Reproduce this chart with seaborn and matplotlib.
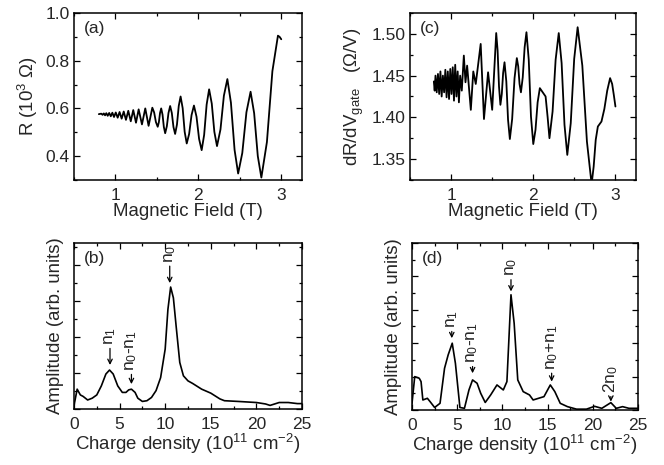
import seaborn as sns
import matplotlib.pyplot as plt
from matplotlib.ticker import MultipleLocator, FormatStrFormatter, NullFormatter

sns.set_style('ticks')
plt.rcParams['font.family'] = ['Liberation Sans', 'DejaVu Sans']
plt.rcParams['mathtext.default'] = 'regular'

# (a) resistance vs field
field_a = [0.80, 0.83, 0.845, 0.86, 0.875, 0.89, 0.907, 0.925, 0.944, 0.963, 0.983,
           1.004, 1.027, 1.05, 1.075, 1.10, 1.127, 1.155, 1.185, 1.215, 1.248, 1.28,
           1.32, 1.36, 1.40, 1.445, 1.467, 1.488, 1.51, 1.524, 1.538, 1.552, 1.568,
           1.584, 1.60, 1.62, 1.64, 1.66, 1.68, 1.70, 1.72, 1.742, 1.764, 1.786,
           1.811, 1.835, 1.86, 1.889, 1.918, 1.947, 1.978, 2.009, 2.04, 2.07, 2.10,
           2.13, 2.162, 2.193, 2.225, 2.267, 2.308, 2.35, 2.393, 2.437, 2.48, 2.53,
           2.58, 2.63, 2.673, 2.717, 2.76, 2.827, 2.893, 2.96, 2.98, 3.0]
res_a = [0.576, 0.578, 0.573, 0.579, 0.571, 0.580, 0.569, 0.581, 0.567, 0.582, 0.564,
         0.583, 0.561, 0.585, 0.557, 0.587, 0.552, 0.590, 0.546, 0.593, 0.540, 0.596,
         0.533, 0.600, 0.527, 0.603, 0.583, 0.543, 0.523, 0.542, 0.581, 0.600, 0.574,
         0.522, 0.496, 0.525, 0.581, 0.610, 0.581, 0.522, 0.493, 0.532, 0.611, 0.650,
         0.601, 0.502, 0.453, 0.493, 0.572, 0.612, 0.565, 0.472, 0.425, 0.489, 0.616,
         0.680, 0.620, 0.502, 0.442, 0.512, 0.653, 0.723, 0.624, 0.426, 0.327, 0.413,
         0.584, 0.670, 0.580, 0.400, 0.310, 0.459, 0.756, 0.905, 0.900, 0.890]

# (c) derivative vs field
field_c = [0.79, 0.80, 0.81, 0.825, 0.84, 0.855, 0.87, 0.885, 0.90, 0.915, 0.93, 0.945,
           0.96, 0.975, 0.99, 1.005, 1.02, 1.035, 1.05, 1.065, 1.08, 1.095, 1.11, 1.13,
           1.155, 1.175, 1.195, 1.24, 1.27, 1.30, 1.36, 1.40, 1.45, 1.50, 1.549, 1.566,
           1.583, 1.60, 1.617, 1.633, 1.65, 1.672, 1.693, 1.715, 1.743, 1.772, 1.80,
           1.817, 1.833, 1.85, 1.872, 1.895, 1.917, 1.945, 1.972, 2.0, 2.027, 2.053,
           2.08, 2.115, 2.15, 2.175, 2.197, 2.235, 2.272, 2.31, 2.345, 2.38, 2.414,
           2.456, 2.498, 2.54, 2.597, 2.653, 2.71, 2.735, 2.76, 2.786, 2.83, 2.865,
           2.90, 2.935, 2.96, 2.98, 3.0]
deriv_c = [1.443, 1.432, 1.450, 1.430, 1.452, 1.428, 1.455, 1.425, 1.450, 1.430, 1.457,
           1.424, 1.455, 1.422, 1.458, 1.428, 1.460, 1.420, 1.463, 1.425, 1.455, 1.418,
           1.450, 1.432, 1.474, 1.442, 1.462, 1.409, 1.455, 1.440, 1.488, 1.398, 1.454,
           1.409, 1.501, 1.480, 1.437, 1.415, 1.428, 1.453, 1.466, 1.443, 1.397, 1.374,
           1.398, 1.447, 1.471, 1.461, 1.440, 1.430, 1.448, 1.484, 1.502, 1.469, 1.401,
           1.368, 1.385, 1.418, 1.435, 1.430, 1.425, 1.400, 1.375, 1.407, 1.469, 1.501,
           1.465, 1.391, 1.355, 1.393, 1.470, 1.508, 1.462, 1.371, 1.320, 1.341, 1.373,
           1.389, 1.395, 1.410, 1.432, 1.447, 1.440, 1.427, 1.413]

# (b) Fourier spectrum of (a)
dens_b = [0, 0.35, 0.7, 1.0, 1.5, 2.0, 2.5, 3.0, 3.5, 3.9, 4.3, 4.8, 5.3, 5.7, 6.0, 6.3,
          6.7, 7.0, 7.5, 8.0, 8.5, 9.0, 9.5, 10.0, 10.3, 10.6, 10.9, 11.2, 11.6, 12.0,
          12.5, 13.0, 14.0, 15.0, 16.0, 16.5, 18.0, 20.0, 21.0, 21.5, 22.0, 22.5, 23.5,
          24.5, 25.0]
amp_b = [0.09, 0.55, 0.39, 0.35, 0.25, 0.30, 0.39, 0.64, 0.97, 1.08, 0.97, 0.64, 0.46,
         0.46, 0.53, 0.55, 0.46, 0.30, 0.21, 0.23, 0.32, 0.51, 0.87, 1.66, 2.76, 3.38,
         3.08, 2.30, 1.29, 0.92, 0.78, 0.71, 0.55, 0.44, 0.28, 0.23, 0.21, 0.18, 0.14,
         0.10, 0.14, 0.18, 0.18, 0.15, 0.15]

# (d) Fourier spectrum of (c)
dens_d = [0, 0.3, 0.8, 1.0, 1.2, 1.7, 2.0, 2.5, 3.1, 3.6, 4.0, 4.45, 4.8, 5.3, 5.8, 6.3,
          6.7, 7.2, 7.6, 8.1, 8.7, 9.4, 10.1, 10.5, 10.95, 11.3, 11.7, 12.3, 13.0, 13.4,
          14.0, 14.6, 15.3, 15.8, 16.4, 17.2, 18.2, 19.3, 20.2, 21.0, 22.0, 22.6, 23.3,
          24.0, 25.0]
amp_d = [0.04, 0.20, 0.19, 0.17, 0.06, 0.07, 0.05, 0.015, 0.04, 0.25, 0.33, 0.40, 0.28,
         0.015, 0.01, 0.12, 0.18, 0.16, 0.10, 0.045, 0.09, 0.15, 0.12, 0.17, 0.69, 0.52,
         0.18, 0.11, 0.09, 0.06, 0.07, 0.08, 0.15, 0.11, 0.04, 0.02, 0.005, 0.005, 0.022,
         0.01, 0.044, 0.01, 0.02, 0.01, 0.01]

# peak labels: (text, x, arrow tip y, text bottom y)
labels_b = [('n$_1$', 3.95, 1.22, 1.77), ('n$_0$-n$_1$', 6.3, 0.69, 1.05),
            ('n$_0$', 10.5, 3.49, 4.05)]
labels_d = [('n$_1$', 4.4, 0.43, 0.49), ('n$_0$-n$_1$', 6.7, 0.22, 0.28),
            ('n$_0$', 10.95, 0.71, 0.80), ('n$_0$+n$_1$', 15.45, 0.17, 0.24),
            ('2n$_0$', 22.0, 0.05, 0.10)]

fig = plt.figure(figsize=(6.64, 4.65), dpi=100)
ax_a = fig.add_axes([0.1114, 0.613, 0.3434, 0.359])
ax_c = fig.add_axes([0.6175, 0.613, 0.3403, 0.359])
ax_b = fig.add_axes([0.1114, 0.1204, 0.3434, 0.357])
ax_d = fig.add_axes([0.6205, 0.1183, 0.3403, 0.3591])

line_kw = dict(color='k', sort=False, solid_joinstyle='round', solid_capstyle='round')
sns.lineplot(x=field_a, y=res_a, ax=ax_a, lw=1.3, **line_kw)
sns.lineplot(x=field_c, y=deriv_c, ax=ax_c, lw=1.3, **line_kw)
sns.lineplot(x=dens_b, y=amp_b, ax=ax_b, lw=1.2, **line_kw)
sns.lineplot(x=dens_d, y=amp_d, ax=ax_d, lw=1.2, **line_kw)

ax_a.set_xlim(0.5, 3.25)
ax_a.set_ylim(0.3, 1.0)
ax_a.xaxis.set_major_locator(MultipleLocator(1))
ax_a.xaxis.set_minor_locator(MultipleLocator(0.5))
ax_a.yaxis.set_major_locator(MultipleLocator(0.2))
ax_a.yaxis.set_minor_locator(MultipleLocator(0.1))
ax_a.yaxis.set_major_formatter(FormatStrFormatter('%.1f'))
ax_a.set_xlabel('Magnetic Field (T)')
ax_a.set_ylabel('R (10$^3$ Ω)')

ax_c.set_xlim(0.5, 3.25)
ax_c.set_ylim(1.325, 1.525)
ax_c.xaxis.set_major_locator(MultipleLocator(1))
ax_c.xaxis.set_minor_locator(MultipleLocator(0.5))
ax_c.yaxis.set_major_locator(MultipleLocator(0.05))
ax_c.yaxis.set_minor_locator(MultipleLocator(0.025))
ax_c.yaxis.set_major_formatter(FormatStrFormatter('%.2f'))
ax_c.set_xlabel('Magnetic Field (T)')
ax_c.set_ylabel('dR/dV$_{gate}$   (Ω/V)')

ax_b.set_xlim(0, 25)
ax_b.set_ylim(0, 4.6)
ax_b.yaxis.set_major_locator(MultipleLocator(1))
ax_b.yaxis.set_minor_locator(MultipleLocator(0.5))

ax_d.set_xlim(0, 25)
ax_d.set_ylim(0, 1.0)
ax_d.yaxis.set_major_locator(MultipleLocator(0.2))
ax_d.yaxis.set_minor_locator(MultipleLocator(0.1))

for ax, labels in [(ax_b, labels_b), (ax_d, labels_d)]:
    ax.xaxis.set_major_locator(MultipleLocator(5))
    ax.xaxis.set_minor_locator(MultipleLocator(2.5))
    ax.yaxis.set_major_formatter(NullFormatter())
    ax.set_xlabel('Charge density (10$^{11}$ cm$^{-2}$)')
    ax.set_ylabel('Amplitude (arb. units)')
    for txt, xp, tip, base in labels:
        ax.annotate(txt, xy=(xp, tip), xytext=(xp, base), rotation=90,
                    ha='center', va='bottom', fontsize=12.5,
                    arrowprops=dict(arrowstyle='->', color='k', lw=0.9,
                                    shrinkA=0, shrinkB=0, mutation_scale=8))

for ax, tag in [(ax_a, '(a)'), (ax_c, '(c)'), (ax_b, '(b)'), (ax_d, '(d)')]:
    ax.tick_params(which='both', direction='in', top=True, right=True,
                   labelsize=12.5, width=0.9, color='k', pad=3)
    ax.tick_params(axis='x', which='major', pad=6)
    ax.tick_params(which='major', length=4)
    ax.tick_params(which='minor', length=2)
    ax.xaxis.label.set_size(13.4)
    ax.yaxis.label.set_size(13.4)
    ax.xaxis.labelpad = 0
    for sp in ax.spines.values():
        sp.set_linewidth(1.1)
        sp.set_color('k')
    ax.text(0.045, 0.95, tag, transform=ax.transAxes, ha='left', va='top',
            fontsize=12.5)

fig.savefig('out.png', dpi=100)
